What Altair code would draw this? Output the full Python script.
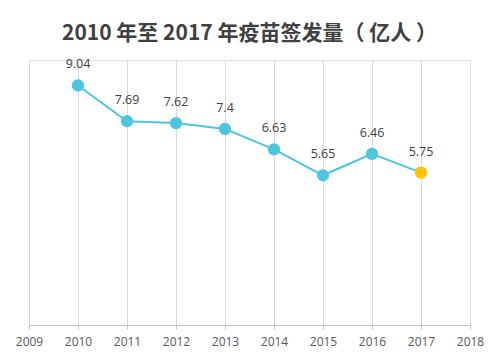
import altair as alt
import pandas as pd

years = [2010, 2011, 2012, 2013, 2014, 2015, 2016, 2017]
values = [9.04, 7.69, 7.62, 7.4, 6.63, 5.65, 6.46, 5.75]
point_kind = ["历史", "历史", "历史", "历史", "历史", "历史", "历史", "最新"]
axis_years = [2009, 2010, 2011, 2012, 2013, 2014, 2015, 2016, 2017, 2018]

df = pd.DataFrame({"year": years, "value": values, "kind": point_kind})

x = alt.X("year:Q",
          scale=alt.Scale(domain=[2009, 2018], nice=False, zero=False),
          axis=alt.Axis(values=axis_years, format="d", title=None, grid=True,
                        gridColor="#d9d9d9", gridWidth=1, domainColor="#bfbfbf",
                        tickColor="#bfbfbf", tickSize=4, labelColor="#595959",
                        labelFontSize=12, labelPadding=7, labelFont="Open Sans",
                        labelFlush=False, labelOverlap=False, labelBound=False))
y = alt.Y("value:Q", scale=alt.Scale(domain=[0, 10], nice=False), axis=None)

base = alt.Chart(df).encode(x=x, y=y)

line = base.mark_line(color="#4ec5e0", strokeWidth=2)
points = base.mark_point(filled=True, size=150, opacity=1).encode(
    color=alt.Color("kind:N", scale=alt.Scale(domain=["历史", "最新"],
                                              range=["#4ec5e0", "#ffc000"]),
                    legend=None))
labels = base.mark_text(dy=-21, fontSize=12.5, color="#404040", font="Open Sans").encode(
    text=alt.Text("value:Q"))

chart = alt.layer(line, points, labels).properties(
    width=441, height=265,
    autosize=alt.AutoSizeParams(type="none"),
    padding={"left": 21, "top": 52, "right": 22, "bottom": 25},
    title=alt.TitleParams("2010 年至 2017 年疫苗签发量（ 亿人 ）", fontSize=21,
                          font="Noto Sans CJK SC", fontWeight="bold",
                          color="#404040", anchor="middle", offset=14),
).configure_view(stroke=None).configure(background="white")

chart.save("out.html", embed_options={"renderer": "svg", "actions": False})
